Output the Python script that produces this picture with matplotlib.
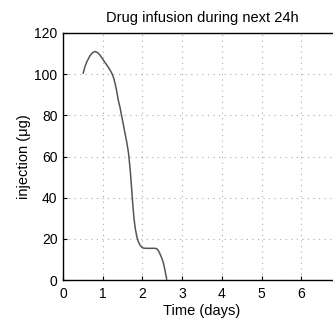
import matplotlib
matplotlib.use("Agg")
import matplotlib.pyplot as plt

t = [0.51, 0.55, 0.60, 0.68, 0.75, 0.81, 0.87, 0.93, 1.01, 1.10, 1.17, 1.23, 1.27, 1.31, 1.35, 1.39, 1.44, 1.48,
     1.52, 1.56, 1.61, 1.65, 1.69, 1.73, 1.76, 1.79, 1.82, 1.86, 1.90, 1.94, 1.98, 2.02, 2.10, 2.20, 2.30, 2.36,
     2.40, 2.44, 2.49, 2.53, 2.57, 2.61]
dose = [100.5, 103.5, 106, 109, 110.5, 111, 110.5, 109.3, 107, 104.5, 102.5, 100.4, 98.5, 95.6, 92, 87.5, 83.5, 79.4,
        75.5, 71.3, 66.5, 61.6, 54, 44, 36, 29.5, 25, 21, 18.5, 17, 16, 15.5, 15.4, 15.4, 15.4, 15.2,
        14.3, 12.8, 10.5, 8.1, 4.5, 0.5]
xticks = [0, 1, 2, 3, 4, 5, 6, 7]
xticklabels = ['0', '1', '2', '3', '4', '5', '6', '']
yticks = [0, 20, 40, 60, 80, 100, 120]

plt.rcParams['font.family'] = ['Liberation Sans', 'DejaVu Sans']
fig = plt.figure(figsize=(3.33, 3.23), dpi=100)
ax = fig.add_axes([63/333, 43/323, 278/333, 247/323])
ax.plot(t, dose, color='#555555', lw=1.1, solid_joinstyle='round')
ax.set_xlim(0, 7)
ax.set_ylim(0, 120)
ax.set_xticks(xticks)
ax.set_xticklabels(xticklabels)
ax.set_yticks(yticks)
ax.grid(True, linestyle=(0, (1, 4)), color='#aaaaaa', lw=0.8)
ax.tick_params(direction='in', length=3, labelsize=10)
ax.tick_params(axis='x', pad=5)
ax.tick_params(axis='y', pad=4)
for s in ax.spines.values():
    s.set_linewidth(1.0)
ax.set_xlabel('Time (days)', fontsize=10.5, labelpad=2)
ax.set_ylabel('injection (\u03bcg)', fontsize=10.5, labelpad=2)
ax.set_title('Drug infusion during next 24h', fontsize=10.5, pad=8)
fig.savefig('out.png', dpi=100)
